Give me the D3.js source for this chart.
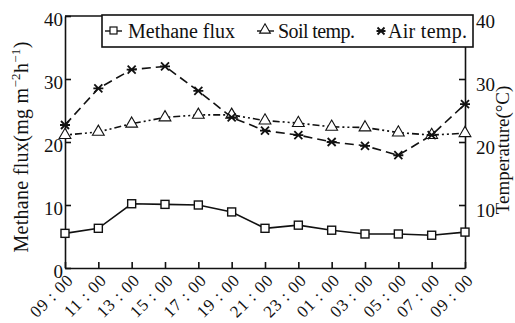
<!DOCTYPE html>
<html lang="en">
  <head>
    <meta charset="utf-8">
    <title>Methane flux and temperature</title>
    <script src="https://d3js.org/d3.v7.min.js"></script>
    <style>
    body { margin: 0; background: #fff; }
    svg { display: block; }
    text { font-family: "Liberation Serif", "DejaVu Serif", serif; fill: #111; }
    .axis path, .axis line { stroke: #111; stroke-width: 1.6; }
    .axis text { font-size: 19px; }
    </style>
  </head>
  <body>
    <svg width="515" height="323" id="svg"></svg>
    <script>

    var times = ["09 : 00", "11 : 00", "13 : 00", "15 : 00", "17 : 00", "19 : 00", "21 : 00",
                 "23 : 00", "01 : 00", "03 : 00", "05 : 00", "07 : 00", "09 : 00"];
    var methane = [5.5, 6.3, 10.2, 10.1, 10.0, 8.9, 6.3, 6.8, 6.0, 5.4, 5.4, 5.2, 5.7];
    var soilTemp = [21.1, 21.6, 22.9, 23.9, 24.3, 24.3, 23.4, 23.0, 22.4, 22.3, 21.5, 21.1, 21.4];
    var airTemp = [22.7, 28.5, 31.5, 32.0, 28.1, 23.9, 21.8, 21.1, 20.0, 19.4, 17.9, 21.1, 26.0];
    var yTicks = [0, 10, 20, 30, 40];
    var rTicks = [10, 20, 30, 40];

    var svg = d3.select("svg"),
        margin = {top: 16, right: 50, bottom: 55, left: 65},
        width = +svg.attr("width") - margin.left - margin.right,
        height = +svg.attr("height") - margin.top - margin.bottom;

    var x = d3.scalePoint().domain(d3.range(times.length)).range([0, width]),
        y = d3.scaleLinear().domain([0, 40]).range([height, 0]),
        y2 = d3.scaleLinear().domain([0, 40]).range([height, 0]);

    var g = svg.append("g")
        .attr("transform", "translate(" + margin.left + "," + margin.top + ")");

    // frame top
    g.append("line")
        .attr("x1", 0).attr("x2", width).attr("y1", 0).attr("y2", 0)
        .attr("stroke", "#111").attr("stroke-width", 1.6);

    g.append("g")
        .attr("class", "axis axis--x")
        .attr("transform", "translate(0," + height + ")")
        .call(d3.axisBottom(x).tickSizeInner(-6).tickSizeOuter(0).tickFormat(""));

    g.selectAll(".xlab")
      .data(times)
      .enter().append("text")
        .attr("class", "xlab")
        .attr("transform", function(d, i) { return "translate(" + (x(i) + 5) + "," + (height + 9) + ") rotate(-45)"; })
        .attr("text-anchor", "end")
        .attr("dy", "0.35em")
        .style("font-size", "17px")
        .style("letter-spacing", "0.8px")
        .text(function(d) { return d; });

    g.append("g")
        .attr("class", "axis axis--y")
        .call(d3.axisLeft(y).tickValues(yTicks).tickSizeInner(-6).tickSizeOuter(0).tickPadding(2))
      .selectAll("text").attr("dy", "0.5em");

    g.append("g")
        .attr("class", "axis axis--y2")
        .attr("transform", "translate(" + width + ",0)")
        .call(d3.axisRight(y2).tickValues(rTicks).tickSizeInner(-6).tickSizeOuter(0).tickPadding(11))
      .selectAll("text").attr("dy", "0.6em");

    svg.append("text")
        .attr("transform", "translate(28,147) rotate(-90)")
        .attr("text-anchor", "middle")
        .style("font-size", "20px")
        .style("letter-spacing", "0.3px")
        .html('Methane flux(mg m<tspan dy="-8" font-size="13px">\u22122</tspan><tspan dy="8">h</tspan><tspan dy="-8" font-size="13px">\u22121</tspan><tspan dy="8">)</tspan>');

    svg.append("text")
        .attr("transform", "translate(509,150) rotate(-90)")
        .attr("text-anchor", "middle")
        .style("font-size", "19px")
        .text("Temperature(\u00b0C)");

    function draw(values, scale, dash) {
      var line = d3.line()
          .x(function(d, i) { return x(i); })
          .y(function(d) { return scale(d); });
      g.append("path")
          .datum(values)
          .attr("fill", "none")
          .attr("stroke", "#111")
          .attr("stroke-width", 1.6)
          .attr("stroke-dasharray", dash)
          .attr("d", line);
    }

    draw(methane, y, null);
    draw(soilTemp, y2, "2,3,2,3,7,3");
    draw(airTemp, y2, "9,5");

    g.selectAll(".sq")
      .data(methane)
      .enter().append("rect")
        .attr("class", "sq")
        .attr("x", function(d, i) { return x(i) - 4; })
        .attr("y", function(d) { return y(d) - 4; })
        .attr("width", 8).attr("height", 8)
        .attr("fill", "#fff").attr("stroke", "#111").attr("stroke-width", 1.4);

    var tri = d3.symbol().type(d3.symbolTriangle).size(60);
    g.selectAll(".tri")
      .data(soilTemp)
      .enter().append("path")
        .attr("class", "tri")
        .attr("transform", function(d, i) { return "translate(" + x(i) + "," + y2(d) + ")"; })
        .attr("d", tri)
        .attr("fill", "#fff").attr("stroke", "#111").attr("stroke-width", 1.1);

    function star(sel, r) {
      sel.append("path")
          .attr("d", "M" + (-r) + "," + (-r) + "L" + r + "," + r + "M" + (-r) + "," + r + "L" + r + "," + (-r) + "M" + (-r - 1) + ",0L" + (r + 1) + ",0")
          .attr("stroke", "#111").attr("stroke-width", 1.8).attr("fill", "none");
    }

    g.selectAll(".star")
      .data(airTemp)
      .enter().append("g")
        .attr("class", "star")
        .attr("transform", function(d, i) { return "translate(" + x(i) + "," + y2(d) + ")"; })
        .call(star, 4);

    // legend
    var lg = svg.append("g");
    lg.append("rect")
        .attr("x", 102).attr("y", 15).attr("width", 371).attr("height", 32)
        .attr("fill", "#fff").attr("stroke", "#111").attr("stroke-width", 1.6);

    lg.append("line").attr("x1", 105).attr("x2", 122).attr("y1", 31).attr("y2", 31)
        .attr("stroke", "#111").attr("stroke-width", 1.4);
    lg.append("rect").attr("x", 110).attr("y", 27).attr("width", 7).attr("height", 7)
        .attr("fill", "#fff").attr("stroke", "#111").attr("stroke-width", 1.2);
    lg.append("text").attr("x", 128).attr("y", 38).attr("textLength", 107)
        .style("font-size", "20px").text("Methane flux");

    lg.append("line").attr("x1", 257).attr("x2", 274).attr("y1", 31).attr("y2", 31)
        .attr("stroke", "#111").attr("stroke-width", 1.4);
    lg.append("path").attr("transform", "translate(265,30)")
        .attr("d", d3.symbol().type(d3.symbolTriangle).size(50))
        .attr("fill", "#fff").attr("stroke", "#111").attr("stroke-width", 1.1);
    lg.append("text").attr("x", 278).attr("y", 38).attr("textLength", 77)
        .style("font-size", "20px").text("Soil temp.");

    lg.append("g").attr("transform", "translate(381,31)").call(star, 3.5);
    lg.append("text").attr("x", 388).attr("y", 38).attr("textLength", 79)
        .style("font-size", "20px").text("Air temp.");

    </script>
  </body>
</html>
